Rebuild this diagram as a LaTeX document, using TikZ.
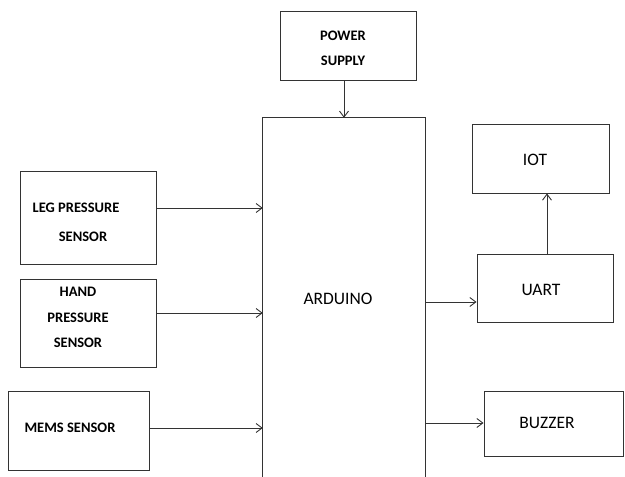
\documentclass[tikz,border=0pt]{standalone}
\usepackage{fontspec}
\setmainfont{Carlito}
\usetikzlibrary{arrows.meta}
\tikzset{
  blk/.style={draw=black!80, line width=0.9pt, rectangle, inner sep=0pt},
  lbl/.style={font=\fontsize{14.5}{25}\selectfont\bfseries, inner sep=0pt, align=center},
  big/.style={font=\fontsize{17.5}{20}\selectfont, inner sep=0pt},
  arr/.style={draw=black!80, line width=0.9pt, -{Straight Barb[length=6pt,width=9pt]}},
}
\begin{document}
\begin{tikzpicture}[x=1pt,y=-1pt]
\useasboundingbox (0,0) rectangle (625,477);
% boxes
\node[blk, minimum width=136pt, minimum height=69pt] (power) at (348,45.5) {};
\node[lbl] (powert) at (343,48) {POWER\\SUPPLY};
\node[draw=none, minimum width=162pt, minimum height=359pt, inner sep=0pt] (ard) at (344,297.5) {};
\draw[black!80, line width=0.9pt] (ard.south west) -- (ard.north west) -- (ard.north east) -- (ard.south east);
\node[big] (ardt) at (338,299) {ARDUINO};
\node[blk, minimum width=136pt, minimum height=93pt] (leg) at (88,217.5) {};
\node[lbl, anchor=center] (legt1) at (76,208) {LEG PRESSURE};
\node[lbl, anchor=center] (legt2) at (83,237) {SENSOR};
\node[blk, minimum width=136pt, minimum height=88pt] (hand) at (88,323) {};
\node[lbl, font=\fontsize{14.5}{25.5}\selectfont\bfseries] (handt) at (78,317.5) {HAND\\PRESSURE\\SENSOR};
\node[blk, minimum width=141pt, minimum height=79pt] (mems) at (78.5,430.5) {};
\node[lbl] (memst) at (70,428) {MEMS SENSOR};
\node[blk, minimum width=137pt, minimum height=69pt] (iot) at (540.5,158.5) {};
\node[big] (iott) at (535,160) {IOT};
\node[blk, minimum width=136pt, minimum height=68pt] (uart) at (545,288) {};
\node[big] (uartt) at (541,290) {UART};
\node[blk, minimum width=139pt, minimum height=65pt] (buzz) at (553.5,423.5) {};
\node[big] (buzzt) at (547,423) {BUZZER};
% connectors
\draw[arr] (power.south -| 344,0) -- (ard.north -| 344,0);
\draw[arr] (leg.east |- 0,208) -- (ard.west |- 0,208);
\draw[arr] (hand.east |- 0,313) -- (ard.west |- 0,313);
\draw[arr] (mems.east |- 0,428) -- (ard.west |- 0,428);
\draw[arr] (ard.east |- 0,302) -- (uart.west |- 0,302);
\draw[arr] (ard.east |- 0,423) -- (buzz.west |- 0,423);
\draw[arr] (uart.north -| 547,0) -- (iot.south -| 547,0);
\end{tikzpicture}
\end{document}
